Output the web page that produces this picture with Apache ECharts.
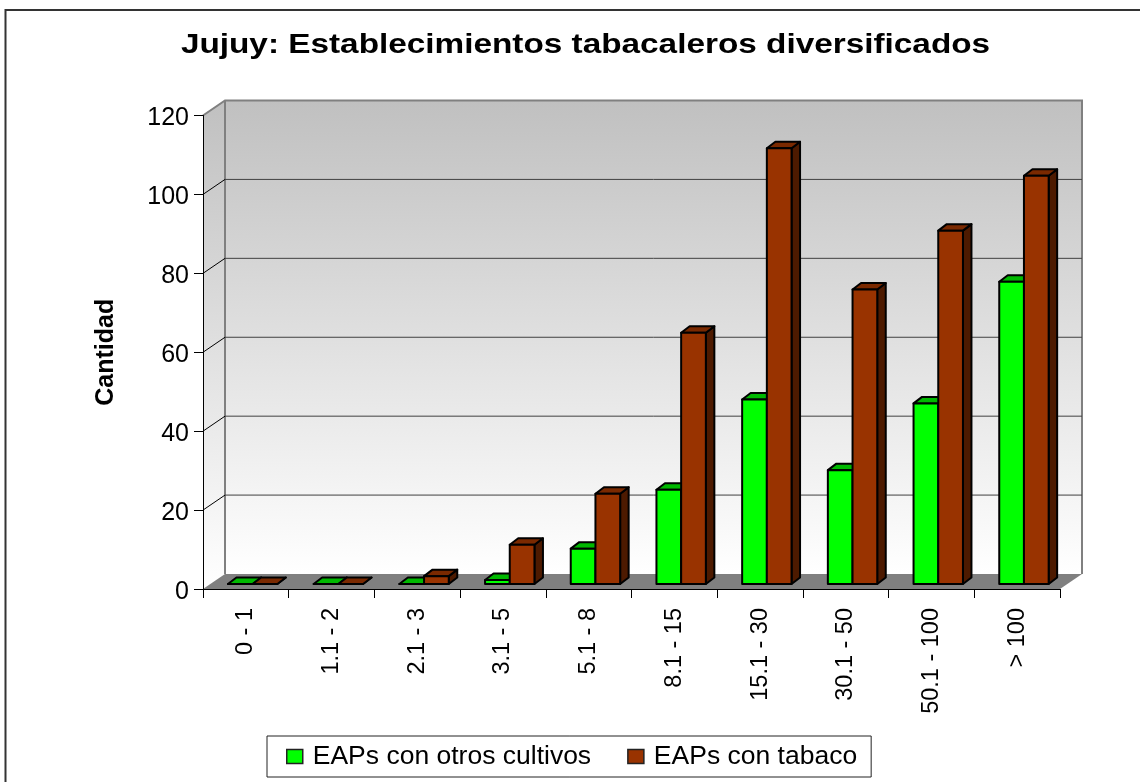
<!DOCTYPE html>
<html><head><meta charset="utf-8">
<style>html,body{margin:0;padding:0;background:#fff}#c{width:1140px;height:782px}</style>
<script src="https://cdn.jsdelivr.net/npm/echarts@6/dist/echarts.min.js"></script>
</head><body><div id="c"></div>
<script>
const titleText = 'Jujuy: Establecimientos tabacaleros diversificados';
const categories = ['0 - 1','1.1 - 2','2.1 - 3','3.1 - 5','5.1 - 8','8.1 - 15','15.1 - 30','30.1 - 50','50.1 - 100','> 100'];
const otrosCultivos = [0,0,0,1,9,24,47,29,46,77];
const conTabaco = [0,0,2,10,23,64,111,75,90,104];
const gridValues = [20,40,60,80,100];

const WALL_DX = 22, WALL_DY = -15;
const BAR_OFF_X = 6.8, BAR_OFF_Y = -5, BAR_DX = 8.5, BAR_DY = -6.5, BAR_W = 24.7, BAR_SCALE = 0.995;
const FONT = '"Liberation Sans", Arial, sans-serif';

function barRenderer(side, front, topC, sideC) {
  return function (params, api) {
    const c0 = api.coord([api.value(0), 0]);
    const c1 = api.coord([api.value(0), api.value(1)]);
    const x0 = c0[0] + BAR_OFF_X + (side < 0 ? -BAR_W : 0);
    const x1 = x0 + BAR_W;
    const yb = c0[1] + BAR_OFF_Y, yt = yb - (c0[1] - c1[1]) * BAR_SCALE;
    const st = { stroke: '#000', lineWidth: 2, lineJoin: 'round' };
    return { type: 'group', children: [
      { type: 'polygon', shape: { points: [[x1, yt],[x1+BAR_DX, yt+BAR_DY],[x1+BAR_DX, yb+BAR_DY],[x1, yb]] }, style: { fill: sideC, ...st } },
      { type: 'polygon', shape: { points: [[x0, yt],[x0+BAR_DX, yt+BAR_DY],[x1+BAR_DX, yt+BAR_DY],[x1, yt]] }, style: { fill: topC, ...st } },
      { type: 'rect', shape: { x: x0, y: yt, width: BAR_W, height: yb-yt }, style: { fill: front, ...st } }
    ]};
  };
}

const option = {
  animation: false,
  backgroundColor: '#fff',
  textStyle: { fontFamily: FONT },
  grid: { left: 203, right: 80, top: 115.5, bottom: 193, containLabel: false },
  xAxis: { type: 'category', data: categories, boundaryGap: true,
    axisLine: { show: true, onZero: false, lineStyle: { color: '#000', width: 1 } },
    axisTick: { show: true, alignWithLabel: false, interval: 0, length: 9, lineStyle: { color: '#000' } },
    axisLabel: { rotate: 90, interval: 0, margin: 19, fontSize: 23.5, color: '#000', fontFamily: FONT } },
  yAxis: { type: 'value', min: 0, max: 120, interval: 20, name: 'Cantidad', nameLocation: 'middle', nameGap: 84,
    nameTextStyle: { fontFamily: FONT, fontWeight: 'bold', fontSize: 25, color: '#000' },
    axisLine: { show: true, lineStyle: { color: '#000', width: 1 } },
    axisTick: { show: true, length: 9, lineStyle: { color: '#000' } },
    axisLabel: { margin: 14, fontSize: 25, color: '#000', fontFamily: FONT, formatter: '{t|{value}}',
      rich: { t: { fontFamily: FONT, fontSize: 25, color: '#000', padding: [6, 0, 0, 0] } } },
    splitLine: { show: false } },
  legend: { left: 267, top: 736, padding: [7, 14, 7, 19], itemGap: 36, itemWidth: 16, itemHeight: 14, icon: 'rect',
    borderColor: '#222', borderWidth: 1, backgroundColor: '#fff',
    itemStyle: { borderColor: '#222', borderWidth: 1.5 },
    textStyle: { fontFamily: FONT, fontSize: 26.5, color: '#000', padding: [0, 0, 0, 5] },
    data: ['EAPs con otros cultivos', 'EAPs con tabaco'] },
  graphic: [
    { type: 'polyline', silent: true, z: -10,
      shape: { points: [[5.5, 782],[5.5, 10],[1140, 10]] }, style: { fill: 'none', stroke: '#333', lineWidth: 2 } },
    { type: 'text', silent: true, x: 585.5, y: 45, scaleX: 1.19, scaleY: 1,
      style: { text: titleText, align: 'center', verticalAlign: 'middle', fill: '#000',
        font: 'bold 28px ' + FONT } }
  ],
  series: [
    { type: 'custom', name: 'walls', silent: true, z: 0, clip: false, data: [[0, 0]],
      renderItem: function (params, api) {
        const g = params.coordSys;
        const l = g.x, r = g.x + g.width, t = g.y, b = g.y + g.height;
        const grey = { stroke: '#808080', lineWidth: 2 };
        const wall = new echarts.graphic.LinearGradient(0, 0, 0, 1, [{ offset: 0, color: '#c0c0c0' }, { offset: 1, color: '#ffffff' }]);
        return { type: 'group', children: [
          { type: 'polygon', shape: { points: [[l,b],[l+WALL_DX,b+WALL_DY],[l+WALL_DX,t+WALL_DY],[l,t]] }, style: { fill: wall } },
          { type: 'rect', shape: { x: l+WALL_DX, y: t+WALL_DY, width: g.width, height: g.height }, style: { fill: wall } },
          { type: 'polygon', shape: { points: [[l,b],[l+WALL_DX,b+WALL_DY],[r+WALL_DX,b+WALL_DY],[r,b]] }, style: { fill: '#808080' } },
          { type: 'polyline', shape: { points: [[l,t],[l+WALL_DX,t+WALL_DY],[r+WALL_DX,t+WALL_DY],[r+WALL_DX,b+WALL_DY]] }, style: { fill: 'none', ...grey } },
          { type: 'line', shape: { x1: l+WALL_DX, y1: t+WALL_DY, x2: l+WALL_DX, y2: b+WALL_DY }, style: grey }
        ]};
      } },
    { type: 'custom', name: 'grid', silent: true, z: 1, clip: false, data: gridValues.map(v => [0, v]),
      renderItem: function (params, api) {
        const g = params.coordSys;
        const y = api.coord([0, api.value(1)])[1];
        return { type: 'group', children: [
          { type: 'line', shape: { x1: g.x, y1: y, x2: g.x+WALL_DX, y2: y+WALL_DY }, style: { stroke: '#000', lineWidth: 1 } },
          { type: 'line', shape: { x1: g.x+WALL_DX, y1: y+WALL_DY, x2: g.x+g.width+WALL_DX, y2: y+WALL_DY }, style: { stroke: '#404040', lineWidth: 1 } }
        ]};
      } },
    { type: 'custom', name: 'EAPs con otros cultivos', z: 3, clip: false, itemStyle: { color: '#00ff00' },
      encode: { x: 0, y: 1 }, data: otrosCultivos.map((v, i) => [i, v]),
      renderItem: barRenderer(-1, '#00ff00', '#00b800', '#006600') },
    { type: 'custom', name: 'EAPs con tabaco', z: 4, clip: false, itemStyle: { color: '#993300' },
      encode: { x: 0, y: 1 }, data: conTabaco.map((v, i) => [i, v]),
      renderItem: barRenderer(1, '#993300', '#7a2900', '#4d1a00') }
  ]
};
echarts.init(document.getElementById('c'), null, { renderer: 'canvas' }).setOption(option);
</script></body></html>
